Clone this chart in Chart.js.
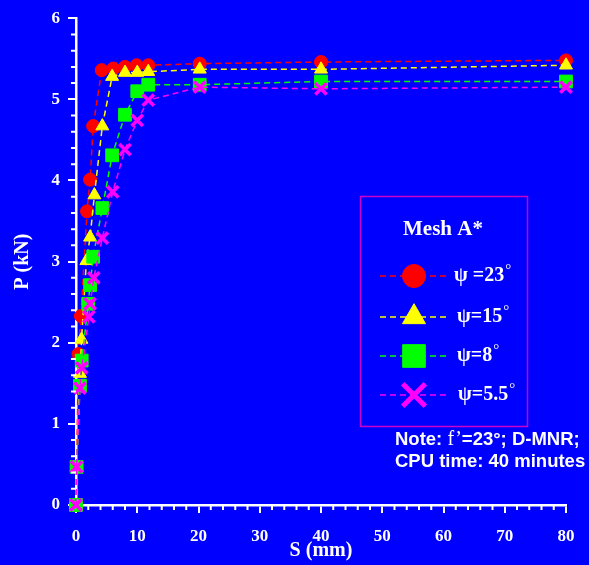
<!DOCTYPE html>
<html>
<head>
<meta charset="utf-8">
<script src="https://cdn.jsdelivr.net/npm/chart.js@4"></script>
<style>
  html, body { margin: 0; padding: 0; background: #0000ff; }
  canvas { display: block; }
</style>
</head>
<body>
<canvas id="myChart" width="589" height="565"></canvas>
<script>
// S (mm) and P (kN), one pair of arrays per psi value
let s23 = [0, 0.1, 0.4, 0.8, 1.8, 2.3, 2.8, 4.2, 6.1, 8.0, 9.9, 11.8, 20.2, 40, 80];
let p23 = [0, 0.47, 1.86, 2.33, 3.62, 4.01, 4.67, 5.36, 5.38, 5.40, 5.42, 5.42, 5.44, 5.46, 5.48];

let s15 = [0, 0.1, 0.65, 0.9, 1.7, 2.3, 3.0, 4.3, 5.9, 8.0, 10.0, 11.8, 20.2, 40, 80];
let p15 = [0, 0.47, 1.62, 2.04, 3.01, 3.30, 3.82, 4.67, 5.28, 5.33, 5.33, 5.34, 5.37, 5.37, 5.42];

let s8 = [0, 0.1, 0.65, 0.93, 2.0, 2.3, 2.8, 4.3, 5.9, 8.0, 10.0, 11.8, 20.2, 40, 80];
let p8 = [0, 0.47, 1.47, 1.78, 2.48, 2.71, 3.06, 3.66, 4.31, 4.81, 5.10, 5.18, 5.18, 5.22, 5.22];

let s55 = [0, 0.1, 0.65, 0.93, 2.1, 2.3, 2.9, 4.3, 6.0, 8.0, 10.0, 11.8, 20.2, 40, 80];
let p55 = [0, 0.47, 1.44, 1.69, 2.32, 2.48, 2.80, 3.29, 3.86, 4.38, 4.74, 4.99, 5.15, 5.13, 5.15];

let labels = ['\u03C8 =23\u00B0', '\u03C8=15\u00B0', '\u03C8=8\u00B0', '\u03C8=5.5\u00B0'];
let colors = ['#ff0000', '#ffff00', '#00ff00', '#ff00ff'];
let xTicks = [0, 10, 20, 30, 40, 50, 60, 70, 80];
let yTicks = [0, 1, 2, 3, 4, 5, 6];

function pairs(xs, ys) {
    return xs.map((v, i) => ({ x: v, y: ys[i] }));
}

const serif = '"Liberation Serif", "Times New Roman", serif';
const sans = '"Liberation Sans", Arial, sans-serif';

// small ticks every 2 mm and every 0.2 kN
const minorTicks = {
    id: 'minorTicks',
    afterDraw(chart) {
        const ctx = chart.ctx;
        const x = chart.scales.x, y = chart.scales.y;
        ctx.save();
        ctx.strokeStyle = '#fff';
        ctx.lineWidth = 2;
        ctx.beginPath();
        for (let i = 0; i <= 40; i++) {
            if (i % 5 === 0) continue;
            const px = x.getPixelForValue(i * 2);
            ctx.moveTo(px, x.top);
            ctx.lineTo(px, x.top + 5);
        }
        for (let i = 0; i <= 30; i++) {
            if (i % 5 === 0) continue;
            const py = y.getPixelForValue(i * 0.2);
            ctx.moveTo(y.right, py);
            ctx.lineTo(y.right - 5, py);
        }
        ctx.stroke();
        ctx.restore();
    }
};

// boxed legend with title, plus the note under it
const legendBox = {
    id: 'legendBox',
    afterDraw(chart) {
        const ctx = chart.ctx;
        const sizes = [11.5, 13.3, 16, 16];
        const rows = [276, 317, 356, 395];
        const textX = [454, 457, 457, 458];
        ctx.save();
        ctx.strokeStyle = '#cc00cc';
        ctx.lineWidth = 1.5;
        ctx.strokeRect(360.5, 196.5, 167, 230);

        ctx.fillStyle = '#fff';
        ctx.font = 'bold 21px ' + serif;
        ctx.textAlign = 'center';
        ctx.textBaseline = 'middle';
        ctx.fillText('Mesh A*', 443, 230);

        chart.data.datasets.forEach((ds, i) => {
            const yy = rows[i];
            ctx.strokeStyle = ds.borderColor;
            ctx.lineWidth = 1.5;
            ctx.setLineDash([6, 4]);
            ctx.beginPath();
            ctx.moveTo(380, yy);
            ctx.lineTo(450, yy);
            ctx.stroke();
            ctx.setLineDash([]);
            ctx.fillStyle = ds.pointBackgroundColor;
            ctx.strokeStyle = ds.pointBorderColor;
            ctx.lineWidth = ds.pointStyle === 'crossRot' ? 5 : 1;
            Chart.helpers.drawPoint(ctx, {
                pointStyle: ds.pointStyle,
                radius: sizes[i],
                borderWidth: ds.pointStyle === 'crossRot' ? 5 : 1,
                rotation: 0
            }, 414, yy);

            const txt = ds.label;
            const main = txt.slice(0, -1);
            ctx.fillStyle = '#fff';
            ctx.textAlign = 'left';
            ctx.textBaseline = 'middle';
            ctx.font = 'bold 20px ' + serif;
            ctx.fillText(main, textX[i], yy);
            const w = ctx.measureText(main).width;
            ctx.font = '15px ' + serif;
            ctx.fillText(txt.slice(-1), textX[i] + w + 1, yy - 6);
        });

        // note lines
        ctx.textAlign = 'left';
        ctx.textBaseline = 'middle';
        ctx.fillStyle = '#fff';
        let nx = 395;
        ctx.font = 'bold 18.5px ' + sans;
        ctx.fillText('Note: ', nx, 440);
        nx += ctx.measureText('Note: ').width;
        ctx.font = '20px ' + serif;
        ctx.fillText('f\u2019', nx, 440);
        nx += ctx.measureText('f\u2019').width;
        ctx.font = 'bold 18.5px ' + sans;
        ctx.fillText('=23\u00B0; D-MNR;', nx, 440);
        ctx.fillText('CPU time: 40 minutes', 395, 462);
        ctx.restore();
    }
};

let ctx = document.getElementById('myChart').getContext('2d');

function series(i, xs, ys, style, radius, bw, order) {
    return {
        label: labels[i],
        data: pairs(xs, ys),
        borderColor: colors[i],
        borderWidth: 1.5,
        borderDash: [6, 4],
        pointStyle: style,
        pointRadius: radius,
        pointHoverRadius: radius,
        pointBackgroundColor: colors[i],
        pointBorderColor: colors[i],
        pointBorderWidth: bw,
        fill: false,
        tension: 0,
        clip: false,
        order: order
    };
}

let chart = new Chart(ctx, {
    type: 'line',
    data: {
        datasets: [
            series(0, s23, p23, 'circle', 6.5, 1, 4),
            series(1, s15, p15, 'triangle', 7.5, 1, 3),
            series(2, s8, p8, 'rect', 9, 1, 2),
            series(3, s55, p55, 'crossRot', 8, 3.5, 1)
        ]
    },
    plugins: [minorTicks, legendBox],
    options: {
        responsive: false,
        animation: false,
        layout: { padding: { top: 16, right: 23, left: 0, bottom: 0 } },
        plugins: {
            legend: { display: false },
            tooltip: { enabled: false }
        },
        scales: {
            x: {
                type: 'linear',
                min: 0,
                max: 80,
                afterFit: s => { s.height = 60; },
                afterBuildTicks: s => { s.ticks = xTicks.map(v => ({ value: v })); },
                border: { color: '#fff', width: 2.5 },
                grid: { drawOnChartArea: false, color: '#fff', tickLength: 8, lineWidth: 2 },
                ticks: { color: '#fff', padding: 13, font: { family: serif, size: 17, weight: 'bold' } },
                title: {
                    display: true, text: 'S (mm)', color: '#fff',
                    font: { family: serif, size: 20, weight: 'bold' },
                    padding: { top: 0, bottom: 2 }
                }
            },
            y: {
                type: 'linear',
                min: 0,
                max: 6,
                afterFit: s => { s.width = 76; },
                afterBuildTicks: s => { s.ticks = yTicks.map(v => ({ value: v })); },
                border: { color: '#fff', width: 2.5 },
                grid: { drawOnChartArea: false, color: '#fff', tickLength: 8, lineWidth: 2 },
                ticks: { color: '#fff', padding: 8, font: { family: serif, size: 17, weight: 'bold' } },
                title: {
                    display: true, text: 'P (kN)', color: '#fff',
                    font: { family: serif, size: 20, weight: 'bold' },
                    padding: { top: 11, bottom: 0 }
                }
            }
        }
    }
});
</script>
</body>
</html>
